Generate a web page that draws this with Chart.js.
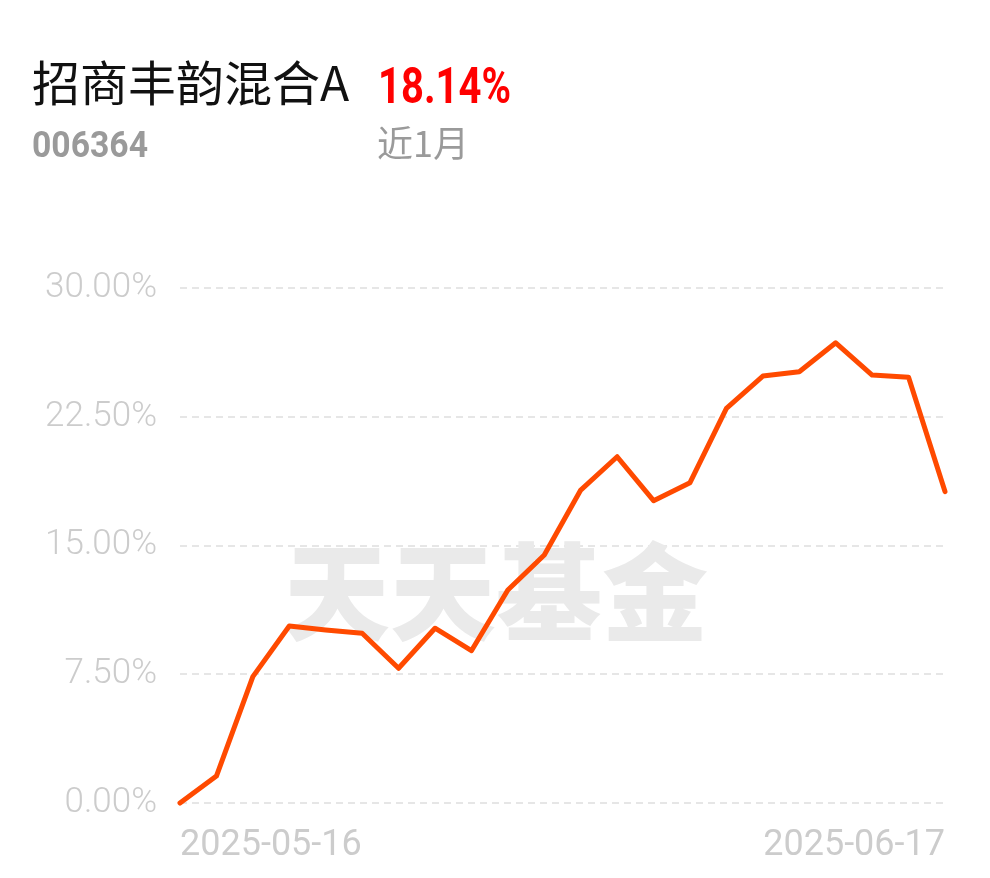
<!DOCTYPE html>
<html>
<head>
<meta charset="utf-8">
<script src="https://cdn.jsdelivr.net/npm/chart.js@4"></script>
<style>
  html, body { margin: 0; padding: 0; background: #ffffff; }
  #wrap { position: relative; width: 990px; height: 878px; }
  canvas { display: block; }
</style>
</head>
<body>
<div id="wrap"><canvas id="c" width="990" height="878"></canvas></div>
<script>
const fundName = '招商丰韵混合A';
const fundCode = '006364';
const periodReturn = '18.14%';
const periodLabel = '近1月';
const watermarkText = '天天基金';

const dates = ['2025-05-16','2025-05-19','2025-05-20','2025-05-21','2025-05-22','2025-05-23',
  '2025-05-26','2025-05-27','2025-05-28','2025-05-29','2025-05-30',
  '2025-06-03','2025-06-04','2025-06-05','2025-06-06',
  '2025-06-09','2025-06-10','2025-06-11','2025-06-12','2025-06-13',
  '2025-06-16','2025-06-17'];
const returns = [0, 1.57, 7.36, 10.31, 10.08, 9.89, 7.85, 10.18, 8.87, 12.41, 14.45,
  18.23, 20.17, 17.61, 18.66, 22.99, 24.87, 25.12, 26.81, 24.93, 24.80, 18.14];
const yTicks = [0, 7.5, 15, 22.5, 30];

function fitText(ctx, text, x, y, targetWidth) {
  const w = ctx.measureText(text).width;
  ctx.save();
  ctx.translate(x, y);
  ctx.scale(targetWidth / w, 1);
  ctx.fillText(text, 0, 0);
  ctx.restore();
}

const headerPlugin = {
  id: 'header',
  afterDraw(chart) {
    const ctx = chart.ctx;
    ctx.save();
    ctx.textBaseline = 'alphabetic';
    ctx.textAlign = 'left';
    ctx.fillStyle = '#111111';
    ctx.font = '400 48px "Noto Sans CJK SC"';
    ctx.fillText(fundName, 32, 101);
    ctx.fillStyle = '#ff0000';
    ctx.font = 'bold 50px Roboto';
    fitText(ctx, periodReturn, 378, 103, 133);
    ctx.fillStyle = '#9a9a9a';
    ctx.font = 'bold 36px Roboto';
    fitText(ctx, fundCode, 32, 157, 116);
    ctx.fillStyle = '#9a9a9a';
    ctx.font = '400 36px "Noto Sans CJK SC"';
    ctx.fillText(periodLabel, 377, 157);
    ctx.restore();
  }
};

const watermarkPlugin = {
  id: 'watermark',
  beforeDatasetsDraw(chart) {
    const ctx = chart.ctx;
    ctx.save();
    ctx.fillStyle = '#eaeaea';
    ctx.font = '900 106px "Noto Sans CJK SC"';
    ctx.textAlign = 'center';
    ctx.textBaseline = 'middle';
    ctx.fillText(watermarkText, 496, 592);
    ctx.restore();
  }
};

new Chart(document.getElementById('c'), {
  type: 'line',
  data: {
    labels: dates,
    datasets: [{
      data: returns,
      borderColor: '#ff4a00',
      borderWidth: 5,
      pointRadius: 0,
      pointHoverRadius: 0,
      tension: 0,
      fill: false,
      borderJoinStyle: 'round',
      borderCapStyle: 'round',
      clip: false
    }]
  },
  options: {
    responsive: false,
    devicePixelRatio: 1,
    animation: false,
    events: [],
    layout: { padding: { top: 288, right: 45, left: 0, bottom: 0 } },
    plugins: { legend: { display: false }, tooltip: { enabled: false } },
    scales: {
      x: {
        type: 'category',
        grid: { display: false, drawTicks: false },
        border: { display: false },
        afterFit(s) { s.height = 75; },
        ticks: {
          autoSkip: false,
          maxRotation: 0,
          minRotation: 0,
          align: 'inner',
          padding: 21,
          color: '#cccccc',
          font: { family: 'Roboto', size: 36 },
          callback(v, i) { return (i === 0 || i === dates.length - 1) ? dates[i] : ''; }
        }
      },
      y: {
        min: 0,
        max: 30,
        afterBuildTicks(s) { s.ticks = yTicks.map(v => ({ value: v })); },
        afterFit(s) { s.width = 180; },
        grid: { color: '#e6e6e6', lineWidth: 2, drawTicks: false },
        border: { display: false, dash: [7, 5] },
        ticks: {
          padding: 23,
          color: '#cccccc',
          font: { family: 'Roboto', size: 35, weight: '300' },
          callback(v) { return Number(v).toFixed(2) + '%'; }
        }
      }
    }
  },
  plugins: [watermarkPlugin, headerPlugin]
});
</script>
</body>
</html>
